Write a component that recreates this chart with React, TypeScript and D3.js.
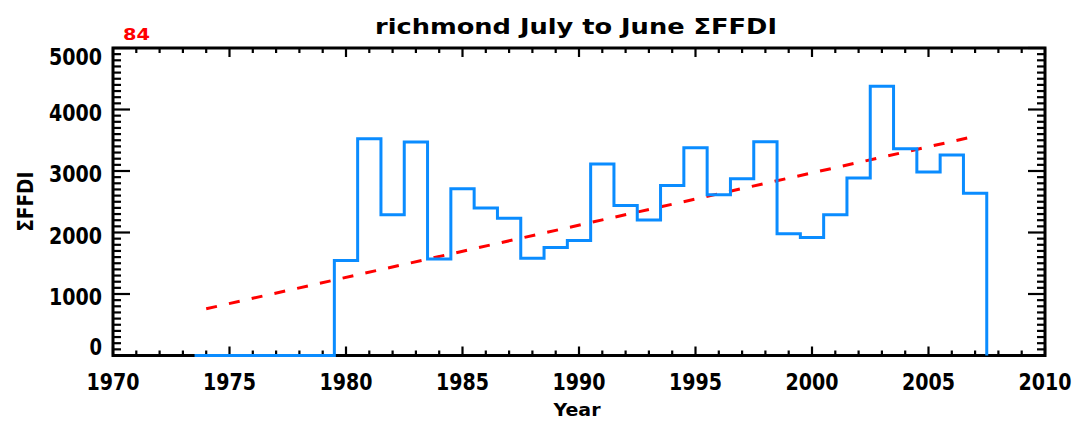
import React from "react";
import * as d3 from "d3";

const years: number[] = [
  1974, 1975, 1976, 1977, 1978, 1979, 1980, 1981, 1982, 1983, 1984, 1985,
  1986, 1987, 1988, 1989, 1990, 1991, 1992, 1993, 1994, 1995, 1996, 1997,
  1998, 1999, 2000, 2001, 2002, 2003, 2004, 2005, 2006, 2007,
];
const sffdi: number[] = [
  0, 0, 0, 0, 0, 0, 1545, 3525, 2290, 3470, 1570, 2710, 2400, 2230, 1580,
  1755, 1870, 3115, 2440, 2205, 2765, 3380, 2615, 2875, 3475, 1980, 1920,
  2290, 2885, 4380, 3360, 2985, 3260, 2640,
];
const xTicks: number[] = [1970, 1975, 1980, 1985, 1990, 1995, 2000, 2005, 2010];
const yTicks: number[] = [0, 1000, 2000, 3000, 4000, 5000];
const titleText = "richmond July to June ΣFFDI";
const cornerLabel = "84";
const xLabel = "Year";
const yLabel = "ΣFFDI";

const W = 1073;
const H = 421;
const L = 113;
const R = 1045;
const T = 48;
const B = 355.5;

export default function App() {
  const x = d3.scaleLinear().domain([1970, 2010]).range([L, R]);
  const y = d3.scaleLinear().domain([0, 5000]).range([B, T]);

  // step (histogram) points
  const pts: [number, number][] = [];
  years.forEach((yr, i) => {
    pts.push([yr - 0.5, sffdi[i]]);
    pts.push([yr + 0.5, sffdi[i]]);
  });
  pts.push([years[years.length - 1] + 0.5, 0]);
  const stepLine = d3
    .line<[number, number]>()
    .x((d) => x(d[0]))
    .y((d) => y(d[1]));

  // least squares trend
  const mx = d3.mean(years)!;
  const my = d3.mean(sffdi)!;
  let sxy = 0;
  let sxx = 0;
  years.forEach((yr, i) => {
    sxy += (yr - mx) * (sffdi[i] - my);
    sxx += (yr - mx) * (yr - mx);
  });
  const slope = sxy / sxx;
  const trend = (yr: number) => my + slope * (yr - mx);
  const y0 = years[0];
  const y1 = years[years.length - 1];

  const minorX = d3.range(1970, 2011, 1);
  const minorY = d3.range(0, 5001, 100);

  const font = "'DejaVu Sans', sans-serif";
  const tickStroke = 2.2;
  const sy = 1.25;

  const yLabelBaseline = (v: number, i: number) => {
    if (i === 0) return y(v) - 0.5;
    if (i === yTicks.length - 1) return y(v) + 17;
    return y(v) + 11.3;
  };

  return (
    <svg
      width={W}
      height={H}
      style={{ position: "absolute", left: 0, top: 0, background: "#fff" }}
    >
      {/* x ticks bottom/top */}
      {minorX.map((v) => {
        const major = v % 5 === 0;
        const len = major ? 9 : 5;
        return (
          <g key={"xt" + v}>
            <line x1={x(v)} x2={x(v)} y1={B} y2={B - len} stroke="#000" strokeWidth={tickStroke} />
            <line x1={x(v)} x2={x(v)} y1={T} y2={T + len} stroke="#000" strokeWidth={tickStroke} />
          </g>
        );
      })}
      {/* y ticks left/right */}
      {minorY.map((v) => {
        const major = v % 1000 === 0;
        const len = major ? 17 : 8;
        return (
          <g key={"yt" + v}>
            <line x1={L} x2={L + len} y1={y(v)} y2={y(v)} stroke="#000" strokeWidth={tickStroke} />
            <line x1={R} x2={R - len} y1={y(v)} y2={y(v)} stroke="#000" strokeWidth={tickStroke} />
          </g>
        );
      })}
      {/* frame */}
      <rect x={L} y={T} width={R - L} height={B - T} fill="none" stroke="#000" strokeWidth={3} />

      {/* x tick labels */}
      {xTicks.map((v) => (
        <text
          key={"xl" + v}
          transform={`translate(${x(v)},390) scale(1,${sy})`}
          textAnchor="middle"
          fontFamily={font}
          fontWeight="bold"
          fontSize={18}
          textLength={53}
          lengthAdjust="spacingAndGlyphs"
        >
          {v}
        </text>
      ))}
      {/* y tick labels */}
      {yTicks.map((v, i) => (
        <text
          key={"yl" + v}
          transform={`translate(${L - 11},${yLabelBaseline(v, i)}) scale(1,${sy})`}
          textAnchor="end"
          fontFamily={font}
          fontWeight="bold"
          fontSize={18}
          {...(String(v).length === 4 ? { textLength: 53, lengthAdjust: "spacingAndGlyphs" } : {})}
        >
          {v}
        </text>
      ))}

      {/* trend */}
      <line
        x1={x(y0)}
        y1={y(trend(y0))}
        x2={x(y1)}
        y2={y(trend(y1))}
        stroke="#ff0000"
        strokeWidth={3}
        strokeDasharray="11 12.3"
      />
      {/* step line */}
      <path d={stepLine(pts)!} fill="none" stroke="#0a8cff" strokeWidth={3} />

      {/* titles */}
      <text
        x={576}
        y={34.3}
        textAnchor="middle"
        fontFamily={font}
        fontWeight="bold"
        fontSize={22}
        textLength={402}
        lengthAdjust="spacingAndGlyphs"
      >
        {titleText}
      </text>
      <text
        x={123}
        y={40}
        fontFamily={font}
        fontWeight="bold"
        fontSize={15}
        fill="#ff0000"
        textLength={27}
        lengthAdjust="spacingAndGlyphs"
      >
        {cornerLabel}
      </text>
      <text
        transform={`translate(577,416) scale(1,1.1)`}
        textAnchor="middle"
        fontFamily={font}
        fontWeight="bold"
        fontSize={16}
        textLength={47}
        lengthAdjust="spacingAndGlyphs"
      >
        {xLabel}
      </text>
      <text
        transform={`translate(33, ${(T + B) / 2}) rotate(-90) scale(1,1.2)`}
        textAnchor="middle"
        fontFamily={font}
        fontWeight="bold"
        fontSize={18}
        textLength={60}
        lengthAdjust="spacingAndGlyphs"
      >
        {yLabel}
      </text>
    </svg>
  );
}
